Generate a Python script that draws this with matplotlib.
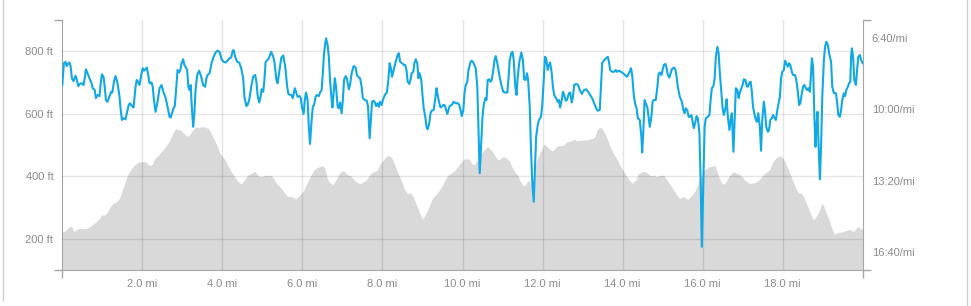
import matplotlib
matplotlib.use("Agg")
import matplotlib.pyplot as plt
from matplotlib.ticker import FuncFormatter
from matplotlib.lines import Line2D

# elevation profile (miles, feet)
elev_mi = [0.00, 0.07, 0.13, 0.19, 0.24, 0.29, 0.34, 0.40, 0.46, 0.53,
           0.61, 0.69, 0.78, 0.86, 0.93, 0.98, 1.06, 1.13, 1.19, 1.28,
           1.34, 1.40, 1.46, 1.53, 1.59, 1.65, 1.73, 1.82, 1.90, 1.98,
           2.07, 2.13, 2.19, 2.26, 2.29, 2.36, 2.44, 2.53, 2.61, 2.69,
           2.76, 2.84,
           2.90, 2.95, 3.02, 3.08, 3.15, 3.20, 3.27, 3.33, 3.42, 3.48,
           3.57, 3.65, 3.72, 3.80, 3.87, 3.93, 4.00, 4.07, 4.13, 4.22,
           4.30, 4.38, 4.47, 4.55, 4.63, 4.72, 4.80, 4.85, 4.90, 4.97,
           5.03, 5.08, 5.15, 5.22, 5.28, 5.35, 5.43, 5.50, 5.57, 5.63,
           5.70,
           5.76, 5.83, 5.89, 5.96, 6.03, 6.09, 6.16, 6.23, 6.29, 6.36,
           6.44, 6.51, 6.56, 6.61, 6.66, 6.71, 6.76, 6.81, 6.86, 6.91,
           6.98, 7.03, 7.08, 7.14, 7.21, 7.26, 7.33, 7.39, 7.46, 7.53,
           7.61, 7.68, 7.74, 7.81, 7.88, 7.94, 8.01, 8.08, 8.14, 8.21,
           8.28, 8.34, 8.41, 8.48, 8.54, 8.59,
           8.63, 8.70, 8.77, 8.83, 8.90, 8.97, 9.00, 9.05, 9.12, 9.18,
           9.25, 9.32, 9.38, 9.45, 9.52, 9.58, 9.65, 9.73, 9.82, 9.88,
           9.95, 10.03, 10.12, 10.18, 10.23, 10.28, 10.35, 10.42, 10.50, 10.57,
           10.63, 10.70, 10.77, 10.83, 10.90, 10.97, 11.03, 11.10, 11.17, 11.23,
           11.30, 11.38,
           11.44, 11.49, 11.54, 11.59, 11.64, 11.69, 11.74, 11.79, 11.86, 11.93,
           11.99, 12.04, 12.11, 12.18, 12.24, 12.31, 12.38, 12.46, 12.53, 12.59,
           12.66, 12.73, 12.78, 12.84, 12.93, 13.01, 13.09, 13.18, 13.26, 13.31,
           13.36, 13.41, 13.46, 13.51, 13.58, 13.64, 13.71, 13.78, 13.86, 13.94,
           14.03, 14.09, 14.16, 14.23, 14.28, 14.34,
           14.38, 14.45, 14.52, 14.58, 14.65, 14.72, 14.78, 14.83, 14.90, 14.97,
           15.03, 15.10, 15.17, 15.23, 15.30, 15.37, 15.43, 15.50, 15.57, 15.63,
           15.70, 15.77, 15.82, 15.87, 15.92, 15.97, 16.03, 16.10, 16.17, 16.23,
           16.30, 16.35, 16.40, 16.45, 16.50, 16.55, 16.60, 16.65, 16.72, 16.78,
           16.85, 16.92, 16.98, 17.05, 17.12, 17.17,
           17.28, 17.36, 17.44, 17.53, 17.61, 17.68, 17.73, 17.79, 17.86, 17.93,
           17.99, 18.06, 18.13, 18.19, 18.26, 18.33, 18.39, 18.48, 18.54, 18.61,
           18.68, 18.74, 18.79, 18.86, 18.93, 18.98, 19.03, 19.09, 19.16, 19.23,
           19.28, 19.34, 19.39, 19.48, 19.56, 19.64, 19.69, 19.76, 19.81, 19.86,
           19.91, 19.96, 20.00]
elev_ft = [222, 225, 233, 241, 237, 223, 228, 233, 233, 232,
           233, 239, 247, 256, 265, 276, 276, 287, 301, 315,
           317, 324, 340, 367, 390, 409, 425, 438, 445, 447,
           447, 439, 434, 439, 452, 463, 473, 486, 500, 516,
           537, 553,
           548, 550, 539, 532, 527, 537, 550, 557, 555, 559,
           557, 553, 537, 516, 497, 475, 463, 452, 436, 415,
           399, 385, 375, 388, 404, 409, 415, 409, 401, 399,
           401, 404, 401, 403, 393, 377, 367, 356, 345, 335,
           335,
           333, 327, 335, 343, 354, 372, 390, 407, 420, 427,
           431, 434, 425, 399, 383, 377, 372, 383, 393, 407,
           415, 418, 409, 404, 401, 393, 383, 379, 377, 383,
           390, 404, 413, 415, 422, 439, 450, 461, 466, 463,
           447, 425, 404, 383, 361, 351,
           345, 347, 335, 315, 292, 271, 262, 273, 289, 308,
           329, 340, 347, 361, 377, 393, 404, 411, 420, 431,
           443, 454, 457, 452, 441, 436, 447, 468, 479, 489,
           495, 486, 475, 461, 452, 459, 463, 457, 450, 431,
           415, 404,
           385, 375, 369, 377, 388, 379, 372, 409, 452, 473,
           489, 503, 495, 487, 481, 489, 498, 498, 500, 509,
           511, 514, 519, 514, 514, 516, 516, 519, 521, 527,
           546, 555, 556, 548, 532, 511, 489, 471, 454, 434,
           415, 402, 390, 377, 383, 388,
           407, 411, 415, 414, 406, 401, 404, 399, 401, 404,
           403, 390, 377, 365, 351, 337, 329, 335, 331, 326,
           335, 345, 356, 372, 390, 404, 418, 425, 431, 431,
           435, 420, 399, 383, 374, 377, 385, 399, 409, 415,
           409, 407, 399, 388, 381, 377,
           379, 383, 393, 407, 415, 422, 439, 452, 461, 465,
           461, 447, 425, 407, 383, 361, 347, 345, 329, 308,
           287, 265, 262, 276, 294, 315, 303, 281, 260, 233,
           217, 217, 221, 222, 225, 228, 230, 223, 228, 239,
           237, 230, 233]

# pace (miles, seconds per mile)
pace_mi = [0.00, 0.04, 0.08, 0.11, 0.14, 0.18, 0.21, 0.24, 0.28, 0.33,
           0.36, 0.40, 0.44, 0.48, 0.53, 0.56, 0.59, 0.63, 0.68, 0.73,
           0.76, 0.81, 0.84, 0.88, 0.93, 0.96, 0.99, 1.03, 1.06, 1.09,
           1.13, 1.18, 1.22, 1.25, 1.29, 1.33, 1.38, 1.43, 1.46, 1.49,
           1.53, 1.58, 1.63, 1.66, 1.69, 1.74, 1.78, 1.83, 1.86, 1.89,
           1.93, 1.98, 2.01, 2.04, 2.08, 2.11, 2.14, 2.18, 2.23, 2.26,
           2.29, 2.33, 2.38, 2.43, 2.48, 2.53, 2.58, 2.63, 2.68, 2.71,
           2.74, 2.78, 2.81,
           2.85, 2.88, 2.92, 2.95, 2.98, 3.02, 3.05, 3.08, 3.12, 3.15,
           3.18, 3.21, 3.23, 3.27, 3.30, 3.33, 3.37, 3.42, 3.47, 3.52,
           3.57, 3.60, 3.63, 3.68, 3.73, 3.78, 3.83, 3.88, 3.93, 3.98,
           4.03, 4.08, 4.13, 4.18, 4.22, 4.25, 4.28, 4.32, 4.37, 4.42,
           4.47, 4.52, 4.55, 4.60, 4.63, 4.67, 4.72, 4.77, 4.82, 4.85,
           4.88, 4.92, 4.95, 4.98, 5.02, 5.05, 5.08, 5.13, 5.17, 5.22,
           5.27, 5.30, 5.35, 5.38, 5.42, 5.47, 5.52, 5.57, 5.62, 5.65,
           5.70,
           5.73, 5.76, 5.81, 5.84, 5.88, 5.93, 5.96, 5.99, 6.03, 6.06,
           6.09, 6.13, 6.16, 6.19, 6.23, 6.26, 6.29, 6.33, 6.36, 6.41,
           6.44, 6.48, 6.51, 6.54, 6.58, 6.59, 6.63, 6.66, 6.69, 6.73,
           6.75, 6.78, 6.81, 6.84, 6.88, 6.91, 6.94, 6.98, 7.01, 7.04,
           7.08, 7.11, 7.16, 7.19, 7.23, 7.28, 7.33, 7.36, 7.41, 7.44,
           7.48, 7.51, 7.56, 7.61, 7.64, 7.68, 7.71, 7.74, 7.78, 7.81,
           7.84, 7.88, 7.91, 7.94, 7.98, 8.01, 8.06, 8.11, 8.14, 8.18,
           8.21, 8.24, 8.28, 8.33, 8.38, 8.41, 8.44, 8.49, 8.54,
           8.57, 8.60, 8.63, 8.67, 8.70, 8.73, 8.77, 8.80, 8.83, 8.87,
           8.90, 8.93, 8.97, 9.00, 9.03, 9.07, 9.10, 9.13, 9.17, 9.20,
           9.23, 9.28, 9.32, 9.35, 9.38, 9.42, 9.45, 9.48, 9.52, 9.55,
           9.58, 9.62, 9.65, 9.68, 9.73, 9.78, 9.83, 9.88, 9.92, 9.95,
           9.98, 10.02, 10.05, 10.08, 10.12, 10.15, 10.20, 10.23, 10.28, 10.33,
           10.37, 10.40, 10.43, 10.47, 10.50, 10.53, 10.57, 10.60, 10.63, 10.67,
           10.70, 10.73, 10.77, 10.80, 10.83, 10.87, 10.92, 10.97, 11.02, 11.07,
           11.12, 11.15, 11.18, 11.22, 11.25, 11.28, 11.32, 11.35, 11.38, 11.42,
           11.47, 11.51, 11.54, 11.58, 11.61, 11.64, 11.68, 11.71, 11.74, 11.78,
           11.81, 11.84, 11.88, 11.91, 11.96, 11.99, 12.03, 12.06, 12.09, 12.13,
           12.16, 12.19, 12.23, 12.26, 12.29, 12.34, 12.38, 12.41, 12.44, 12.48,
           12.51, 12.54, 12.58, 12.61, 12.66, 12.69, 12.73, 12.76, 12.79, 12.84,
           12.89, 12.93, 12.98, 13.01, 13.04, 13.09, 13.14, 13.19, 13.24, 13.29,
           13.34, 13.38, 13.43, 13.46, 13.49, 13.54, 13.59, 13.63, 13.66, 13.69,
           13.74, 13.79, 13.83, 13.86, 13.91, 13.96, 14.01, 14.06, 14.11, 14.16,
           14.21, 14.24, 14.28, 14.31,
           14.35, 14.38, 14.43, 14.47, 14.49, 14.52, 14.55, 14.58, 14.62, 14.65,
           14.68, 14.72, 14.75, 14.78, 14.83, 14.87, 14.90, 14.93, 14.97, 15.00,
           15.03, 15.07, 15.10, 15.13, 15.17, 15.20, 15.23, 15.28, 15.32, 15.35,
           15.38, 15.43, 15.48, 15.52, 15.55, 15.58, 15.62, 15.65, 15.68, 15.72,
           15.75, 15.78, 15.82, 15.85, 15.88, 15.92, 15.95, 15.98, 16.02, 16.05,
           16.08, 16.13, 16.17, 16.20, 16.23, 16.27, 16.30, 16.33, 16.37, 16.40,
           16.43, 16.47, 16.50, 16.53, 16.57, 16.60, 16.63, 16.67, 16.70, 16.73,
           16.77, 16.80, 16.83, 16.87, 16.90, 16.93, 16.97, 17.00, 17.03, 17.07,
           17.10, 17.13, 17.17,
           17.20, 17.23, 17.26, 17.29, 17.33, 17.36, 17.39, 17.43, 17.46, 17.49,
           17.53, 17.56, 17.59, 17.63, 17.66, 17.69, 17.73, 17.76, 17.79, 17.83,
           17.86, 17.89, 17.93, 17.96, 17.99, 18.03, 18.06, 18.09, 18.13, 18.16,
           18.19, 18.23, 18.26, 18.31, 18.34, 18.38, 18.41, 18.44, 18.48, 18.51,
           18.54, 18.58, 18.61, 18.64, 18.68, 18.71, 18.73, 18.76, 18.79, 18.82,
           18.84, 18.87, 18.89, 18.93, 18.96, 18.99, 19.03, 19.06, 19.09, 19.13,
           19.16, 19.21, 19.24, 19.28, 19.33, 19.36, 19.39, 19.43, 19.46, 19.49,
           19.53, 19.56, 19.59, 19.63, 19.66, 19.69, 19.71, 19.73, 19.76, 19.79,
           19.83, 19.86, 19.89, 19.93, 19.96, 20.00]
pace_sec = [532, 471, 467, 479, 473, 469, 481, 513, 521, 506,
            516, 535, 529, 527, 532, 513, 488, 499, 513, 527,
            541, 546, 569, 560, 563, 527, 502, 509, 537, 574,
            579, 563, 551, 553, 523, 507, 527, 565, 602, 630,
            625, 628, 602, 588, 583, 591, 595, 537, 518, 523,
            532, 499, 485, 492, 488, 483, 499, 527, 525, 537,
            574, 607, 579, 541, 532, 553, 567, 593, 621, 623,
            611, 597, 591,
            537, 490, 497, 490, 471, 460, 476, 481, 490, 537,
            546, 532, 583, 649, 611, 546, 504, 492, 509, 532,
            537, 513, 504, 499, 471, 453, 441, 436, 439, 460,
            467, 469, 464, 457, 455, 439, 434, 453, 467, 469,
            485, 513, 565, 591, 588, 574, 537, 509, 504, 523,
            560, 581, 569, 544, 551, 518, 467, 462, 455, 439,
            453, 467, 518, 527, 495, 457, 449, 481, 537, 557,
            560,
            560, 569, 541, 551, 565, 563, 569, 595, 613, 574,
            553, 574, 649, 697, 630, 593, 588, 565, 560, 563,
            553, 546, 499, 443, 411, 401, 420, 453, 518, 574,
            595, 555, 513, 537, 593, 597, 581, 611, 574, 518,
            507, 513, 544, 532, 499, 479, 483, 504, 511, 513,
            537, 569, 574, 576, 593, 681, 630, 579, 576, 581,
            591, 583, 593, 579, 588, 574, 560, 553, 527, 471,
            485, 509, 490, 467, 448, 443, 467, 471, 476,
            476, 490, 523, 529, 518, 499, 495, 471, 460, 471,
            513, 499, 518, 560, 597, 621, 649, 656, 639, 611,
            604, 602, 569, 541, 560, 583, 595, 593, 588, 588,
            597, 613, 602, 591, 588, 579, 583, 583, 588, 602,
            619, 602, 555, 532, 523, 490, 467, 464, 471, 485,
            537, 658, 779, 686, 621, 588, 569, 574, 518, 516,
            523, 518, 490, 462, 451, 471, 504, 532, 551, 553,
            553, 513, 462, 443, 439, 462, 537, 560, 509, 467,
            441, 462, 516, 518, 499, 518, 593, 705, 798, 859,
            770, 677, 644, 630, 621, 593, 518, 453, 457, 490,
            476, 469, 499, 537, 560, 569, 579, 574, 595, 574,
            551, 560, 576, 574, 555, 553, 581, 565, 532, 529,
            532, 546, 557, 551, 546, 544, 551, 560, 569, 583,
            597, 604, 602, 537, 471, 462, 457, 453, 467, 490,
            495, 495, 490, 495, 492, 495, 499, 504, 509, 499,
            485, 504, 560, 583,
            597, 625, 630, 677, 721, 658, 574, 583, 595, 621,
            649, 621, 579, 574, 574, 537, 501, 497, 504, 490,
            476, 473, 485, 504, 511, 499, 488, 483, 488, 509,
            537, 565, 579, 602, 611, 597, 604, 621, 621, 616,
            635, 653, 635, 619, 625, 667, 798, 985, 798, 649,
            625, 621, 616, 574, 541, 535, 513, 453, 425, 443,
            499, 555, 597, 616, 597, 572, 621, 658, 630, 611,
            719, 630, 541, 546, 569, 553, 541, 532, 516, 518,
            535, 537, 525,
            523, 551, 593, 611, 630, 635, 611, 649, 716, 630,
            579, 607, 649, 663, 658, 630, 625, 616, 623, 630,
            607, 588, 565, 513, 495, 490, 464, 471, 481, 471,
            476, 495, 504, 504, 518, 551, 588, 583, 555, 537,
            532, 541, 546, 541, 551, 499, 457, 481, 611, 705,
            658, 607, 677, 796, 705, 565, 462, 425, 411, 420,
            443, 467, 537, 555, 555, 579, 616, 621, 602, 574,
            555, 563, 546, 537, 527, 523, 453, 429, 453, 518,
            532, 490, 453, 448, 462, 471]

mi_ticks = [2, 4, 6, 8, 10, 12, 14, 16, 18]
ft_ticks = [200, 400, 600, 800]
pace_ticks = [400, 600, 800, 1000]

plt.rcParams['font.family'] = ['Liberation Sans', 'DejaVu Sans']

W, H = 971, 306
fig = plt.figure(figsize=(W / 100, H / 100), dpi=100)
ax = fig.add_axes([62.3 / W, 36 / H, 800.4 / W, 250 / H])

axis_col = '#a6a6a6'
text_col = '#8c8c8c'

# elevation area
ax.fill_between(elev_mi, elev_ft, 100, color='#d9d9d9', lw=0, zorder=1)
ax.set_xlim(0, 20)
ax.set_ylim(100, 900)
ax.set_xticks(mi_ticks)
ax.set_yticks(ft_ticks)
ax.set_xticks([0, 20], minor=True)
ax.set_yticks([100, 900], minor=True)
ax.xaxis.set_major_formatter(FuncFormatter(lambda v, p: '%.1f mi' % v))
ax.yaxis.set_major_formatter(FuncFormatter(lambda v, p: '%d ft' % v))
ax.grid(True, which='major', color='black', alpha=0.1, lw=1)
ax.set_axisbelow(False)
ax.tick_params(which='major', length=0, pad=6.5, labelsize=8, labelcolor=text_col)
ax.tick_params(which='minor', length=6, width=1, color=axis_col)
for s in ('top', 'right'):
    ax.spines[s].set_visible(False)
for s in ('left', 'bottom'):
    ax.spines[s].set_color(axis_col)

# pace line on the right axis (faster at top)
ax2 = ax.twinx()
ax2.plot(pace_mi, pace_sec, color='#11a8e6', lw=1.5, solid_joinstyle='round', zorder=3)
ax2.set_ylim(1050, 350)
ax2.set_yticks(pace_ticks)
ax2.set_yticks([350, 1050], minor=True)
ax2.yaxis.set_major_formatter(
    FuncFormatter(lambda v, p: '%d:%02d/mi' % (int(v) // 60, int(v) % 60)))
ax2.tick_params(which='major', length=0, pad=6.5, labelsize=8, labelcolor=text_col)
ax2.tick_params(which='minor', length=6, width=1, color=axis_col)
for s in ('top', 'left', 'bottom'):
    ax2.spines[s].set_visible(False)
ax2.spines['right'].set_color(axis_col)

# container borders
fig.add_artist(Line2D([2.5 / W, 2.5 / W], [6 / H, 1], color='#cfcfcf', lw=1))
fig.add_artist(Line2D([966.5 / W, 966.5 / W], [0, 1], color='#cfcfcf', lw=1))

fig.savefig('out.png', dpi=100)
